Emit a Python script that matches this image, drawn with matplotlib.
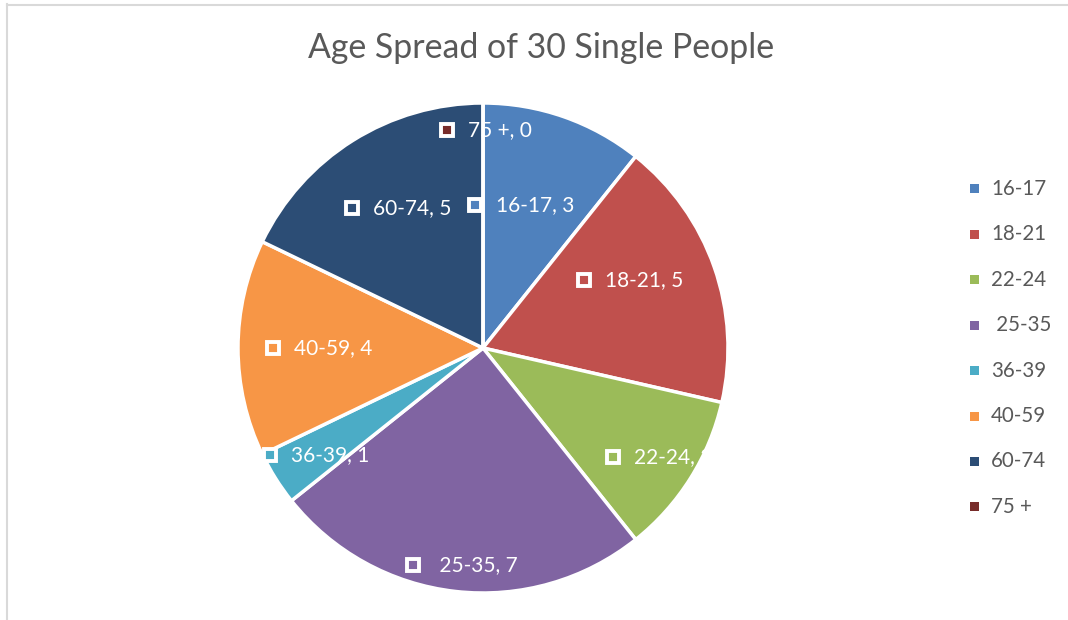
import matplotlib
matplotlib.use("Agg")
import matplotlib.pyplot as plt
from matplotlib.patches import Rectangle
from matplotlib.lines import Line2D
import numpy as np

categories = ["16-17", "18-21", "22-24", " 25-35", "36-39", "40-59", "60-74", "75 +"]
values = [3, 5, 3, 7, 1, 4, 5, 0]
colors = ["#4f81bd", "#c0504d", "#9bbb59", "#8064a2", "#4bacc6", "#f79646", "#2c4d75", "#772c2a"]
label_r = [0.60, 0.65, 0.835, 0.89, 0.82, 0.68, 0.675, 0.89]
label_dang = [-5.4, -6.1, 0, 0, 0, 0, 0, 0]
title = "Age Spread of 30 Single People"

W, H = 1068, 620
fig = plt.figure(figsize=(W / 100, H / 100), dpi=100)
FONT = "Lato"

# outer frame lines (left and top)
fig.add_artist(Line2D([6.5 / W, 6.5 / W], [0, 1 - 4 / H], transform=fig.transFigure, color="#d9d9d9", lw=1.5))
fig.add_artist(Line2D([6.5 / W, 1], [1 - 4.5 / H, 1 - 4.5 / H], transform=fig.transFigure, color="#d9d9d9", lw=1.5))

cx, cy, R = 483, 348, 245
ax = fig.add_axes([(cx - R) / W, (H - cy - R) / H, 2 * R / W, 2 * R / H])

ax.pie(values, colors=colors, startangle=90, counterclock=False, radius=1,
       wedgeprops=dict(edgecolor="white", linewidth=2.5))
ax.set_xlim(-1, 1)
ax.set_ylim(-1, 1)
ax.set_aspect("equal")
ax.axis("off")

total = sum(values)
cum = 0
labels = []
for cat, v, col, r, da in zip(categories, values, colors, label_r, label_dang):
    mid = (cum + v / 2) / total * 2 * np.pi + np.radians(da)
    cum += v
    x = r * np.sin(mid)
    y = r * np.cos(mid)
    txt = f"{cat}, {v}"
    t = ax.text(x, y, txt, ha="center", va="center", color="white", fontsize=15, family=FONT)
    labels.append((t, col))

fig.canvas.draw()
renderer = fig.canvas.get_renderer()
inv = ax.transData.inverted()
shift = 17
for t, col in labels:
    bb = t.get_window_extent(renderer)
    x0, y0 = t.get_position()
    px, py = ax.transData.transform((x0, y0))
    t.set_position(inv.transform((px + shift, py)))
    mx, my = inv.transform((bb.x0 + shift - 21, py))
    ax.plot([mx], [my], marker="s", markersize=8.5, markerfacecolor=col,
            markeredgecolor="white", markeredgewidth=2.8, linestyle="none")

fig.text(541 / W, 1 - 48 / H, title, ha="center", va="center", fontsize=24.4,
         color="#595959", family=FONT)

# legend
y0 = 189
step = 45.4
for i, (cat, col) in enumerate(zip(categories, colors)):
    yy = y0 + i * step
    fig.add_artist(Rectangle(((974 - 4.5) / W, 1 - (yy + 4.5) / H), 9 / W, 9 / H,
                             transform=fig.transFigure, facecolor=col, edgecolor="none"))
    fig.text(991 / W, 1 - yy / H, cat, ha="left", va="center", fontsize=14.8,
             color="#595959", family=FONT)

fig.savefig("out.png", dpi=100)
